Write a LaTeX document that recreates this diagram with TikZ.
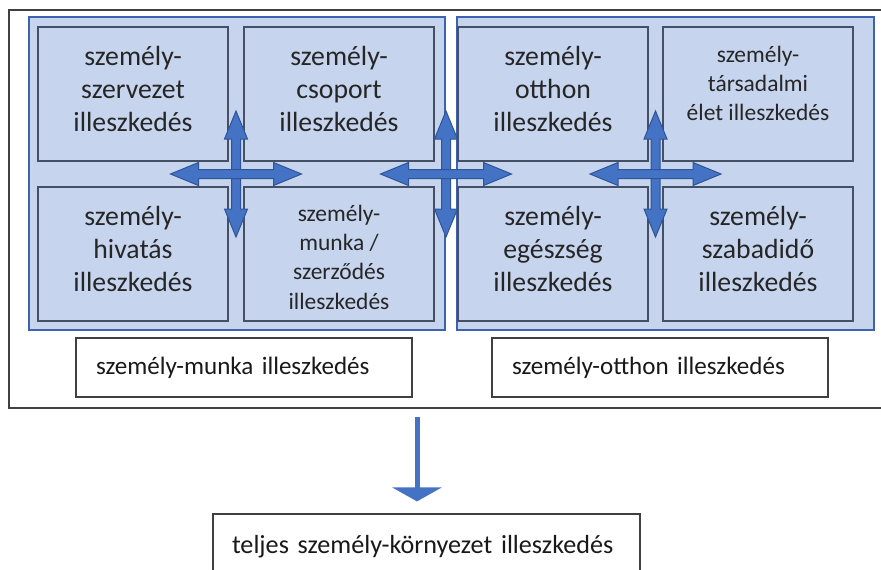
\documentclass[tikz,border=0pt]{standalone}
\usepackage{fontspec}
\setmainfont{Carlito}
\usepackage{tikz}
\usetikzlibrary{fit,calc,arrows.meta}
\usepackage{xcolor}

\definecolor{panelfill}{RGB}{198,212,238}
\definecolor{paneldraw}{RGB}{60,98,176}
\definecolor{celldraw}{RGB}{70,80,100}
\definecolor{arrowfill}{RGB}{68,114,196}
\definecolor{arrowdraw}{RGB}{47,85,151}

\newcommand{\pxu}{0.75pt}
\newcommand{\bigtext}{\fontsize{20.8}{24.8}\selectfont}
\newcommand{\smalltext}{\fontsize{17.6}{22}\selectfont}

\tikzset{
    outerframe/.style={draw=black!75, line width=1.2*\pxu, inner sep=0pt},
    panel/.style={draw=paneldraw, fill=panelfill, line width=2.2*\pxu, inner sep=0pt},
    cell/.style={draw=celldraw, line width=1.3*\pxu, inner sep=0pt},
    celltext/.style={align=center, inner sep=0pt, font=\bigtext, text=black!85},
    labelbox/.style={draw=black!75, fill=white, line width=1.2*\pxu, inner sep=0pt},
    labeltext/.style={align=left, inner sep=0pt, text width=222pt, font=\fontsize{18.8}{22}\selectfont, text=black!90},
    blockarrow/.style={fill=arrowfill, draw=arrowdraw, line width=1*\pxu, line join=miter},
    downarrow/.style={draw=arrowfill, line width=5*\pxu, -{Triangle[width=36.75pt,length=10.5pt]}, shorten <=6pt, shorten >=9pt},
    pics/crossarrow/.style={code={
        \draw[blockarrow] (0,-63) -- (11.5,-35) -- (4.5,-35) -- (4.5,35) -- (11.5,35) -- (0,63) -- (-11.5,35) -- (-4.5,35) -- (-4.5,-35) -- (-11.5,-35) -- cycle;
        \draw[blockarrow] (-65.5,0) -- (-37.5,11.5) -- (-37.5,4.5) -- (37.5,4.5) -- (37.5,11.5) -- (65.5,0) -- (37.5,-11.5) -- (37.5,-4.5) -- (-37.5,-4.5) -- (-37.5,-11.5) -- cycle;
    }}
}

\begin{document}
\begin{tikzpicture}[x=0.75pt, y=-0.75pt]
        \clip (0,0) rectangle (881,569);
        \node (frame) [outerframe, fit={(9,10) (886,408)}] {};
        \node (lpanel) [panel, fit={(29,17) (445,330)}] {};
        \node (rpanel) [panel, fit={(457,17) (874,330)}] {};
        % work side
        \node (szerv) [cell, fit={(38,27) (228,161)}, label={[celltext, yshift=3.75pt]center:{személy-\\szervezet\\illeszkedés}}] {};
        \node (csop) [cell, fit={(244,27) (434,161)}, label={[celltext, yshift=3.75pt]center:{személy-\\csoport\\illeszkedés}}] {};
        \node (hivat) [cell, fit={(38,187) (228,321)}, label={[celltext, yshift=3.75pt]center:{személy-\\hivatás\\illeszkedés}}] {};
        \node (munka) [cell, fit={(244,187) (434,321)}, label={[celltext, font=\smalltext, yshift=-2.25pt]center:{személy-\\munka /\\szerződés\\illeszkedés}}] {};
        % home side
        \node (otthon) [cell, fit={(458,27) (648,161)}, label={[celltext, yshift=3.75pt]center:{személy-\\otthon\\illeszkedés}}] {};
        \node (tars) [cell, fit={(663,27) (853,161)}, label={[celltext, font=\smalltext, yshift=8pt]center:{személy-\\társadalmi\\élet illeszkedés}}] {};
        \node (egesz) [cell, fit={(458,187) (648,321)}, label={[celltext, yshift=3.75pt]center:{személy-\\egészség\\illeszkedés}}] {};
        \node (szabad) [cell, fit={(663,187) (853,321)}, label={[celltext, yshift=3.75pt]center:{személy-\\szabadidő\\illeszkedés}}] {};
        % result boxes
        \node (lab1) [labelbox, fit={(76,338) (412,397)}, label={[labeltext]center:személy-munka illeszkedés}] {};
        \node (lab2) [labelbox, fit={(492,338) (828,397)}, label={[labeltext]center:személy-otthon illeszkedés}] {};
        \node (total) [labelbox, fit={(213,514) (640,575)}, label={[labeltext, text width=291.75pt, font=\fontsize{19.6}{23}\selectfont, yshift=-1.5pt]center:teljes személy-környezet illeszkedés}] {};
        \foreach \a/\b in {szerv/munka, csop/egesz, otthon/szabad}
            \pic at ($(\a.south east)!0.5!(\b.north west)$) {crossarrow};
        \coordinate (arrx) at (417,0);
        \draw[downarrow] (frame.south -| arrx) -- (total.north -| arrx);
    \end{tikzpicture}
\end{document}
